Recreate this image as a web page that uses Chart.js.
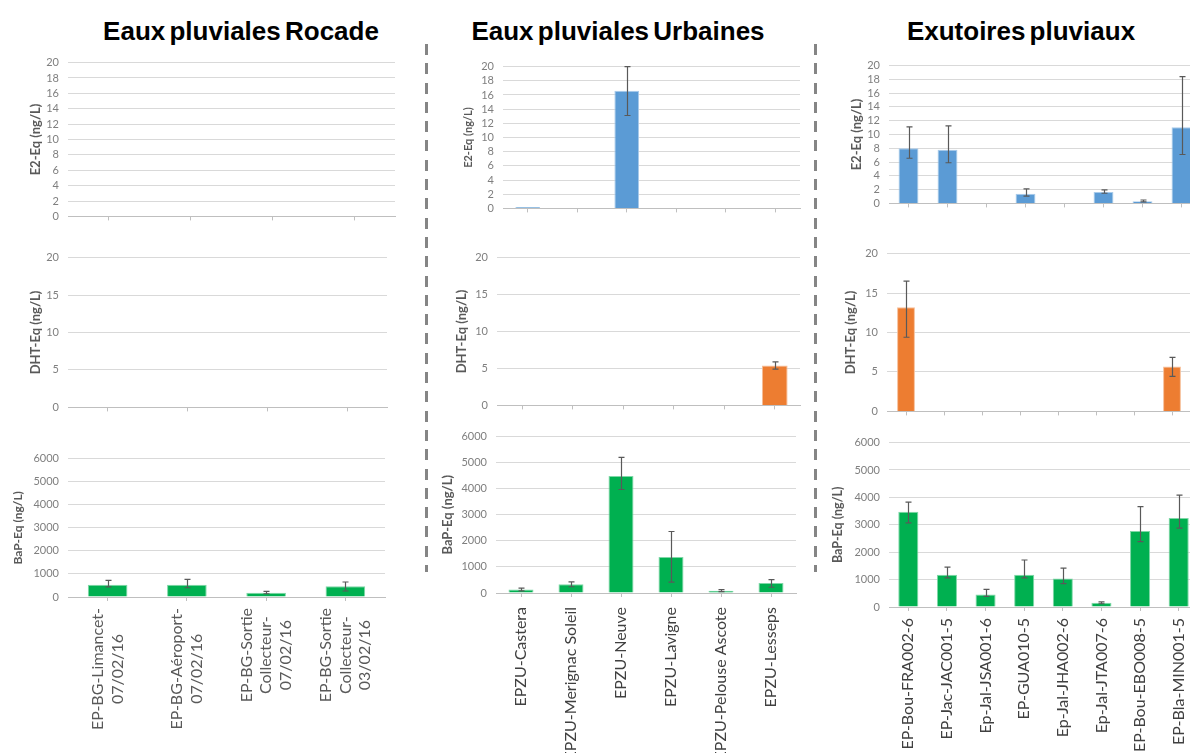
<!DOCTYPE html>
<html>
<head>
<meta charset="utf-8">
<script src="https://cdn.jsdelivr.net/npm/chart.js@4.4.0/dist/chart.umd.min.js"></script>
<style>
  html, body { margin: 0; padding: 0; background: #fff; }
  body { position: relative; width: 1190px; height: 753px; overflow: hidden; }
  canvas { position: absolute; }
  .title {
    position: absolute; top: 16px; line-height: 26px;
    font: bold 26px "Liberation Sans", Arial, sans-serif; color: #000;
    word-spacing: -3px; white-space: nowrap; transform: translateX(-50%);
  }
  .sep {
    position: absolute; top: 44px; height: 528px; width: 3px;
    background: repeating-linear-gradient(to bottom, #858585 0 11px, transparent 11px 19.3px);
  }
</style>
</head>
<body>
<div class="title" style="left:241px">Eaux pluviales Rocade</div>
<div class="title" style="left:618px">Eaux pluviales Urbaines</div>
<div class="title" style="left:1021px">Exutoires pluviaux</div>
<div class="sep" style="left:425px"></div>
<div class="sep" style="left:814px"></div>

<script>
// --- Eaux pluviales Rocade ---
const rocadeSites = [
  ['EP-BG-Limancet-', '07/02/16'],
  ['EP-BG-Aéroport-', '07/02/16'],
  ['EP-BG-Sortie', 'Collecteur-', '07/02/16'],
  ['EP-BG-Sortie', 'Collecteur-', '03/02/16']
];
const rocadeE2 = [0, 0, 0, 0];
const rocadeDHT = [0, 0, 0, 0];
const rocadeBaP = [530, 530, 180, 470];
const rocadeBaPLow = [440, 400, 140, 260];
const rocadeBaPHigh = [720, 760, 240, 650];

// --- Eaux pluviales Urbaines ---
const urbSites = ['EPZU-Castera', 'EPZU-Merignac Soleil', 'EPZU-Neuve', 'EPZU-Lavigne', 'EPZU-Pelouse Ascote', 'EPZU-Lesseps'];
const urbE2 = [0.2, 0, 16.6, 0, 0, 0];
const urbE2Low = [null, null, 13.1, null, null, null];
const urbE2High = [null, null, 20.0, null, null, null];
const urbDHT = [0, 0, 0, 0, 0, 5.4];
const urbDHTLow = [null, null, null, null, null, 4.9];
const urbDHTHigh = [null, null, null, null, null, 5.9];
const urbBaP = [130, 340, 4490, 1380, 90, 380];
const urbBaPLow = [80, 240, 3970, 420, 50, 220];
const urbBaPHigh = [185, 430, 5200, 2360, 130, 510];

// --- Exutoires pluviaux ---
const exuSites = ['EP-Bou-FRA002-6', 'EP-Jac-JAC001-5', 'Ep-Jal-JSA001-6', 'EP-GUA010-5', 'Ep-Jal-JHA002-6', 'Ep-Jal-JTA007-6', 'EP-Bou-EBO008-5', 'EP-Bla-MIN001-5'];
const exuE2 = [8.0, 7.8, 0, 1.4, 0, 1.65, 0.3, 11.05];
const exuE2Low = [6.55, 5.9, null, 1.07, null, 1.47, 0.22, 7.1];
const exuE2High = [11.1, 11.25, null, 2.1, null, 1.96, 0.49, 18.4];
const exuDHT = [13.2, 0, 0, 0, 0, 0, 0, 5.7];
const exuDHTLow = [9.4, null, null, null, null, null, null, 4.45];
const exuDHTHigh = [16.5, null, null, null, null, null, null, 6.85];
const exuBaP = [3480, 1180, 460, 1180, 1040, 155, 2775, 3250];
const exuBaPLow = [3070, 1065, 390, 1065, 850, 118, 2385, 2880];
const exuBaPHigh = [3830, 1455, 640, 1715, 1420, 190, 3660, 4085];

const noErr = n => new Array(n).fill(null);

// colours
const BLUE = '#5b9bd5', ORANGE = '#ed7d31', GREEN = '#00b050';
const EDGE = { [BLUE]: '#a9cbea', [ORANGE]: '#f6be98', [GREEN]: '#7fd7a7' };

// vertical error bars with caps, drawn on top of the bars
function errorBars(low, high) {
  return {
    id: 'errorBars',
    afterDatasetsDraw(chart) {
      const ctx = chart.ctx;
      const y = chart.scales.y;
      const meta = chart.getDatasetMeta(0);
      ctx.save();
      ctx.strokeStyle = '#595959';
      ctx.lineWidth = 1.2;
      meta.data.forEach((bar, i) => {
        if (low[i] == null) return;
        const x = Math.round(bar.x) + 0.5;
        const y1 = y.getPixelForValue(low[i]);
        const y2 = y.getPixelForValue(high[i]);
        ctx.beginPath();
        ctx.moveTo(x, y1); ctx.lineTo(x, y2);
        ctx.moveTo(x - 3, y1); ctx.lineTo(x + 3, y1);
        ctx.moveTo(x - 3, y2); ctx.lineTo(x + 3, y2);
        ctx.stroke();
      });
      ctx.restore();
    }
  };
}

// rotated category labels; multi-line labels keep their lines centred on each other
const xLabels = {
  id: 'xLabels',
  afterDraw(chart, args, opts) {
    if (!opts.show) return;
    const ctx = chart.ctx;
    const x = chart.scales.x;
    ctx.save();
    ctx.font = opts.size + 'px Lato';
    ctx.fillStyle = opts.color;
    ctx.textAlign = 'center';
    ctx.textBaseline = 'middle';
    chart.data.labels.forEach((lab, i) => {
      const lines = [].concat(lab);
      const maxW = Math.max(...lines.map(s => ctx.measureText(s).width));
      const cx = x.getPixelForTick(i);
      const cy = chart.chartArea.bottom + opts.pad + maxW / 2;
      lines.forEach((s, k) => {
        ctx.save();
        ctx.translate(cx + (k - (lines.length - 1) / 2) * opts.lineHeight, cy);
        ctx.rotate(-Math.PI / 2);
        ctx.fillText(s, 0, 0);
        ctx.restore();
      });
    });
    ctx.restore();
  }
};

function panel(p) {
  const lh = p.titleSize * 1.2;
  const left = Math.round(p.titleX - lh / 2 - 2);
  const axisW = p.box.l - left;
  const plotW = p.box.r - p.box.l;
  const plotH = p.box.b - p.box.t;
  const xH = p.showLabels ? 753 - p.box.b + 20 : 8;
  const w = axisW + plotW + 12;
  const h = 10 + plotH + xH + 2;

  const canvas = document.createElement('canvas');
  canvas.width = w; canvas.height = h;
  canvas.style.width = w + 'px'; canvas.style.height = h + 'px';
  canvas.style.left = left + 'px';
  canvas.style.top = (p.box.t - 10) + 'px';
  document.body.appendChild(canvas);

  new Chart(canvas, {
    type: 'bar',
    data: {
      labels: p.labels,
      datasets: [{
        data: p.values,
        backgroundColor: p.color,
        borderColor: EDGE[p.color],
        borderWidth: 1,
        barPercentage: p.barPct,
        categoryPercentage: 1
      }]
    },
    options: {
      responsive: false,
      animation: false,
      events: [],
      layout: { padding: { top: 10, right: 12, bottom: 2, left: 0 } },
      plugins: {
        legend: { display: false },
        tooltip: { enabled: false },
        xLabels: {
          show: !!p.showLabels,
          size: 16,
          lineHeight: 19.5,
          pad: p.labelPad || 11,
          color: p.labelColor || '#404040'
        }
      },
      scales: {
        x: {
          grid: { display: true, drawOnChartArea: false, drawTicks: true, tickLength: 4, color: '#bfbfbf', offset: false },
          border: { color: '#bfbfbf', width: 1 },
          ticks: { display: false, autoSkip: false },
          afterFit: s => { s.height = xH; }
        },
        y: {
          min: 0,
          max: p.max,
          ticks: {
            stepSize: p.step,
            autoSkip: false,
            color: '#7f7f7f',
            padding: 9,
            font: { family: 'Lato', size: 11 },
            callback: v => String(v)
          },
          grid: { color: '#d9d9d9', drawTicks: false },
          border: { display: false },
          title: {
            display: true,
            text: p.title,
            color: '#595959',
            padding: { top: 2, bottom: 0 },
            font: { family: 'Lato', size: p.titleSize, weight: 'bold' }
          },
          afterFit: s => { s.width = axisW; }
        }
      }
    },
    plugins: [
      errorBars(p.low || noErr(p.values.length), p.high || noErr(p.values.length)),
      xLabels
    ]
  });
}

// column 1 - Rocade
panel({ box: { l: 68, r: 395, t: 57, b: 222 }, titleX: 36, titleSize: 13, title: 'E2-Eq (ng/L)',
  labels: rocadeSites, values: rocadeE2, color: BLUE, max: 20, step: 2, barPct: 0.5 });
panel({ box: { l: 68, r: 387, t: 252, b: 413 }, titleX: 36, titleSize: 13, title: 'DHT-Eq (ng/L)',
  labels: rocadeSites, values: rocadeDHT, color: ORANGE, max: 20, step: 5, barPct: 0.5 });
panel({ box: { l: 68, r: 385, t: 453, b: 597 }, titleX: 18, titleSize: 12, title: 'BaP-Eq (ng/L)',
  labels: rocadeSites, values: rocadeBaP, low: rocadeBaPLow, high: rocadeBaPHigh,
  color: GREEN, max: 6000, step: 1000, barPct: 0.5, showLabels: true, labelColor: '#595959' });

// column 2 - Urbaines
panel({ box: { l: 503, r: 800, t: 61, b: 214 }, titleX: 469, titleSize: 11, title: 'E2-Eq (ng/L)',
  labels: urbSites, values: urbE2, low: urbE2Low, high: urbE2High, color: BLUE, max: 20, step: 2, barPct: 0.5 });
panel({ box: { l: 497, r: 800, t: 252, b: 411 }, titleX: 462, titleSize: 13, title: 'DHT-Eq (ng/L)',
  labels: urbSites, values: urbDHT, low: urbDHTLow, high: urbDHTHigh, color: ORANGE, max: 20, step: 5, barPct: 0.51 });
panel({ box: { l: 496, r: 796, t: 431, b: 593 }, titleX: 448, titleSize: 13, title: 'BaP-Eq (ng/L)',
  labels: urbSites, values: urbBaP, low: urbBaPLow, high: urbBaPHigh,
  color: GREEN, max: 6000, step: 1000, barPct: 0.5, showLabels: true, labelPad: 14 });

// column 3 - Exutoires
panel({ box: { l: 889, r: 1201, t: 60, b: 209 }, titleX: 857, titleSize: 13, title: 'E2-Eq (ng/L)',
  labels: exuSites, values: exuE2, low: exuE2Low, high: exuE2High, color: BLUE, max: 20, step: 2, barPct: 0.51 });
panel({ box: { l: 887, r: 1191, t: 248, b: 417 }, titleX: 851, titleSize: 13, title: 'DHT-Eq (ng/L)',
  labels: exuSites, values: exuDHT, low: exuDHTLow, high: exuDHTHigh, color: ORANGE, max: 20, step: 5, barPct: 0.47 });
panel({ box: { l: 889, r: 1198, t: 437, b: 607 }, titleX: 837, titleSize: 12.5, title: 'BaP-Eq (ng/L)',
  labels: exuSites, values: exuBaP, low: exuBaPLow, high: exuBaPHigh,
  color: GREEN, max: 6000, step: 1000, barPct: 0.52, showLabels: true });
</script>
</body>
</html>
